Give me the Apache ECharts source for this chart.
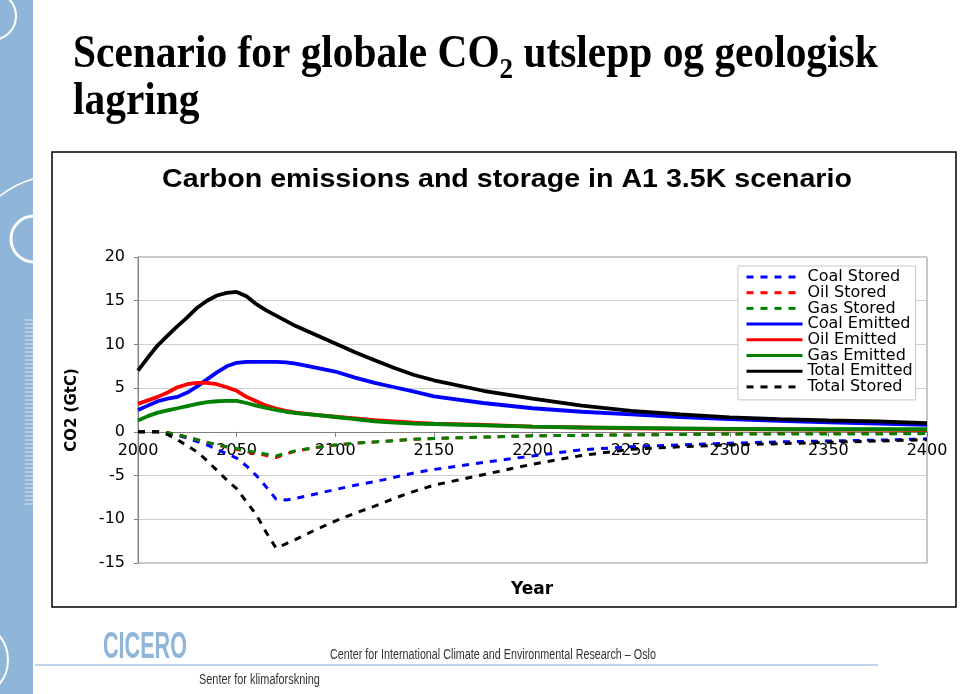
<!DOCTYPE html>
<html><head><meta charset="utf-8">
<script src="https://cdn.jsdelivr.net/npm/echarts@6/dist/echarts.min.js"></script>
<style>html,body{margin:0;padding:0;background:#fff}#c{width:960px;height:694px}</style>
</head><body><div id="c"></div>
<script>
const years = [2000,2005,2010,2015,2020,2025,2030,2035,2040,2045,2050,2055,2060,2065,2070,2075,2080,2090,2100,2110,2120,2130,2140,2150,2175,2200,2225,2250,2275,2300,2325,2350,2375,2400];
const coalStored = [0,0,0,-0.1,-0.4,-0.7,-1.1,-1.5,-2.0,-2.5,-3.0,-3.9,-5.0,-6.3,-7.7,-7.8,-7.6,-7.1,-6.6,-6.1,-5.7,-5.2,-4.7,-4.3,-3.5,-2.75,-2.05,-1.7,-1.5,-1.3,-1.15,-1.05,-0.95,-0.8];
const oilStored = [0,0,0,-0.1,-0.3,-0.6,-0.9,-1.2,-1.5,-1.75,-2.0,-2.25,-2.5,-2.7,-2.95,-2.55,-2.2,-1.8,-1.5,-1.3,-1.15,-1.0,-0.85,-0.75,-0.6,-0.45,-0.4,-0.35,-0.3,-0.25,-0.2,-0.2,-0.2,-0.15];
const gasStored = [0,0,0,-0.1,-0.3,-0.6,-0.9,-1.2,-1.45,-1.7,-1.9,-2.15,-2.35,-2.55,-2.75,-2.45,-2.15,-1.8,-1.5,-1.3,-1.15,-1.0,-0.85,-0.75,-0.6,-0.45,-0.4,-0.35,-0.3,-0.25,-0.25,-0.25,-0.25,-0.2];
const coalEmitted = [2.5,3.0,3.5,3.8,4.0,4.5,5.2,6.0,6.8,7.5,7.9,8.0,8.0,8.0,8.0,7.95,7.8,7.35,6.9,6.2,5.6,5.1,4.6,4.05,3.3,2.7,2.3,2.0,1.7,1.45,1.25,1.1,0.95,0.8];
const oilEmitted = [3.2,3.6,4.0,4.5,5.1,5.45,5.6,5.6,5.45,5.1,4.7,4.0,3.5,3.0,2.65,2.4,2.2,1.95,1.75,1.55,1.35,1.2,1.05,0.95,0.8,0.6,0.5,0.4,0.35,0.3,0.3,0.25,0.25,0.2];
const gasEmitted = [1.3,1.8,2.2,2.45,2.7,2.95,3.2,3.4,3.5,3.55,3.55,3.3,3.0,2.75,2.5,2.3,2.15,1.95,1.7,1.45,1.2,1.05,0.95,0.9,0.75,0.6,0.5,0.45,0.4,0.35,0.3,0.3,0.3,0.3];
const totalEmitted = [7.0,8.5,9.9,11.0,12.1,13.1,14.2,15.0,15.6,15.9,16.0,15.5,14.6,13.9,13.3,12.7,12.1,11.1,10.1,9.1,8.2,7.3,6.5,5.9,4.7,3.8,3.0,2.4,2.0,1.65,1.45,1.3,1.2,1.0];
const totalStored = [0,0,0,-0.3,-0.9,-1.6,-2.3,-3.3,-4.4,-5.5,-6.5,-8.0,-9.5,-11.5,-13.3,-12.8,-12.3,-11.2,-10.2,-9.3,-8.5,-7.6,-6.8,-6.1,-4.9,-3.7,-2.7,-2.0,-1.7,-1.5,-1.35,-1.2,-1.05,-0.9];
const seriesNames = ['Coal Stored','Oil Stored','Gas Stored','Coal Emitted','Oil Emitted','Gas Emitted','Total Emitted','Total Stored'];
const chartTitle = 'Carbon emissions and storage in A1 3.5K scenario';
const yAxisName = 'CO2 (GtC)';
const xAxisName = 'Year';
const yMin = -15, yMax = 20;

const chart = echarts.init(document.getElementById('c'), null, {renderer:'canvas'});

function mk(name, arr, color, dashed, z) {
  return {
    name, type: 'line', z,
    data: years.map((y, i) => [y, arr[i]]),
    symbol: 'none', showSymbol: false, animation: false,
    lineStyle: {color, width: dashed ? 3 : 3.8, type: dashed ? [7, 7] : 'solid'},
    itemStyle: {color}
  };
}

// measure title pieces
const cv = document.createElement('canvas').getContext('2d');
const bigFont = 'bold 46px "Liberation Serif"';
const subFont = 'bold 30px "Liberation Serif"';
cv.font = bigFont;
const wA = cv.measureText('Scenario for globale CO').width;
cv.font = subFont;
const w2 = cv.measureText('2').width;
const sx = 0.9, tx = 73, ty = 78;

const gridTop = 257, gridBottom = 131, gridH = 694 - gridTop - gridBottom;
const zeroOffset = -gridH * (0 - yMin) / (yMax - yMin);

const stripe = '#8fb5d9';
const graphics = [
  {type:'rect', shape:{x:0,y:0,width:33,height:694}, style:{fill:stripe}, z:0},
  {type:'arc', shape:{cx:-8,cy:16,r:24}, style:{stroke:'#fff',fill:null,lineWidth:2}, z:1},
  {type:'bezierCurve', shape:{x1:0,y1:196,cpx1:15,cpy1:184,x2:33,y2:179}, style:{stroke:'#fff',fill:null,lineWidth:1.5}, z:1},
  {type:'arc', shape:{cx:34,cy:239,r:23}, style:{stroke:'#fff',fill:null,lineWidth:3}, z:1},
  {type:'arc', shape:{cx:-30,cy:660,r:38}, style:{stroke:'#fff',fill:null,lineWidth:2}, z:1},
  // slide title
  {type:'text', x:tx, y:ty, scaleX:sx, style:{text:'Scenario for globale CO', font:bigFont, fill:'#000', verticalAlign:'bottom', textAlign:'left'}},
  {type:'text', x:tx + wA*sx, y:ty+7, scaleX:sx, style:{text:'2', font:subFont, fill:'#000', verticalAlign:'bottom', textAlign:'left'}},
  {type:'text', x:tx + (wA + w2)*sx, y:ty, scaleX:sx, style:{text:' utslepp og geologisk', font:bigFont, fill:'#000', verticalAlign:'bottom', textAlign:'left'}},
  {type:'text', x:tx, y:ty+47, scaleX:sx, style:{text:'lagring', font:bigFont, fill:'#000', verticalAlign:'bottom', textAlign:'left'}},
  // chart box
  {type:'rect', shape:{x:52,y:152,width:904,height:455}, style:{fill:null, stroke:'#000', lineWidth:1.5}, z:1},
  {type:'text', x:507, y:180, scaleX:1.1, style:{text:chartTitle, font:'bold 26px "Liberation Sans"', fill:'#000', textAlign:'center', verticalAlign:'middle'}},
  {type:'text', x:532, y:590, style:{text:xAxisName, font:'bold 17px "DejaVu Sans"', fill:'#000', textAlign:'center', verticalAlign:'middle'}},
  // footer
  {type:'text', x:103, y:648, scaleX:0.6, style:{text:'CICERO', font:'bold 36px "Liberation Sans"', fill:stripe, textAlign:'left', verticalAlign:'middle'}},
  {type:'text', x:330, y:655, scaleX:0.77, style:{text:'Center for International Climate and Environmental Research \u2013 Oslo', font:'14px "Liberation Sans"', fill:'#333', textAlign:'left', verticalAlign:'middle'}},
  {type:'line', shape:{x1:35,y1:665,x2:878,y2:665}, style:{stroke:'#a9c6e3', lineWidth:1.5}},
  {type:'text', x:199, y:680, scaleX:0.78, style:{text:'Senter for klimaforskning', font:'14px "Liberation Sans"', fill:'#333', textAlign:'left', verticalAlign:'middle'}}
];
for (let y = 320; y <= 504; y += 4) {
  graphics.push({type:'line', shape:{x1:25,y1:y,x2:33,y2:y}, style:{stroke:'#dce8f4', lineWidth:1}, z:1});
}

const option = {
  animation: false,
  backgroundColor: '#fff',
  graphic: graphics,
  grid: {left:138, right:33, top:gridTop, bottom:gridBottom, show:true, borderColor:'#8c8c8c', borderWidth:1, containLabel:false},
  legend: {
    orient:'vertical', left:738, top:266, itemWidth:56, itemHeight:12, itemGap:-0.3,
    padding:[3,3,5,7], borderColor:'#c8c8c8', borderWidth:1, backgroundColor:'#fff',
    itemStyle:{opacity:0},
    lineStyle:{width:3},
    textStyle:{fontFamily:'DejaVu Sans', fontSize:16, color:'#000'},
    data: seriesNames
  },
  xAxis: {
    type:'value', min:2000, max:2400, interval:50,
    offset: zeroOffset,
    axisLine:{onZero:false, lineStyle:{color:'#808080', width:1}},
    axisTick:{show:true, length:5, lineStyle:{color:'#808080'}},
    splitLine:{show:false},
    axisLabel:{fontFamily:'DejaVu Sans', fontSize:16, color:'#000', margin:11, formatter: v => String(v)}
  },
  yAxis: {
    type:'value', min:yMin, max:yMax, interval:5,
    name: yAxisName, nameLocation:'middle', nameGap:58, nameRotate:90,
    nameTextStyle:{fontFamily:'DejaVu Sans', fontWeight:'bold', fontSize:15, color:'#000'},
    axisLine:{show:true, lineStyle:{color:'#808080', width:1}},
    axisTick:{show:true, length:4, lineStyle:{color:'#808080'}},
    splitLine:{show:true, lineStyle:{color:'#cfcfcf', width:1}},
    axisLabel:{fontFamily:'DejaVu Sans', fontSize:16, color:'#000', margin:13}
  },
  series: [
    mk(seriesNames[0], coalStored, '#0000ff', true, 2),
    mk(seriesNames[1], oilStored, '#ff0000', true, 3),
    mk(seriesNames[2], gasStored, '#008000', true, 4),
    mk(seriesNames[3], coalEmitted, '#0000ff', false, 5),
    mk(seriesNames[4], oilEmitted, '#ff0000', false, 6),
    mk(seriesNames[5], gasEmitted, '#008000', false, 7),
    mk(seriesNames[6], totalEmitted, '#000000', false, 8),
    mk(seriesNames[7], totalStored, '#000000', true, 9)
  ]
};
chart.setOption(option);
</script>
</body></html>
